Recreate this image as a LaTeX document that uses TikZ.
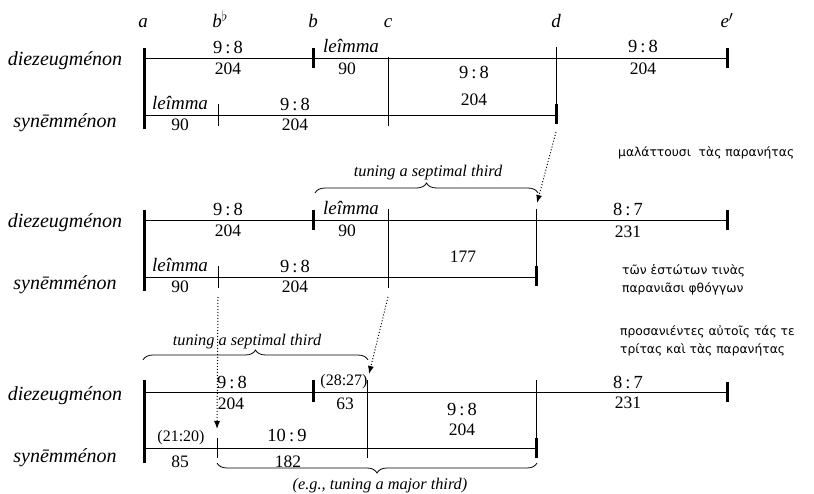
\documentclass[tikz,border=0pt]{standalone}
\usepackage{fontspec}
\setmainfont{Liberation Serif}
\newfontfamily\greekfont{DejaVu Sans}
\usetikzlibrary{arrows.meta,decorations.pathreplacing}
\begin{document}
\begin{tikzpicture}[x=1pt,y=-1pt,
  thinln/.style={line width=0.8pt},
  thickln/.style={line width=3pt},
  ratio/.style={font=\fontsize{18.5}{20}\selectfont, inner sep=0pt, anchor=base},
  pratio/.style={font=\fontsize{16}{20}\selectfont, inner sep=0pt, anchor=base},
  cents/.style={font=\fontsize{17.5}{20}\selectfont, inner sep=0pt, anchor=base},
  lem/.style={font=\fontsize{19}{22}\selectfont\itshape, inner sep=0pt, anchor=base},
  rowlab/.style={font=\fontsize{20}{22}\selectfont\itshape, inner sep=0pt, anchor=base},
  collab/.style={font=\fontsize{19}{22}\selectfont\itshape, inner sep=0pt, anchor=base},
  greek/.style={font=\fontsize{12.3}{18}\selectfont\greekfont, inner sep=0pt, anchor=base west},
  note/.style={font=\fontsize{16.3}{18}\selectfont\itshape, inner sep=0pt, anchor=base},
  brc/.style={decorate, decoration={brace, amplitude=10pt}, line width=0.8pt},
  dotarrow/.style={dotted, line width=1pt, -{Latex[length=8pt,width=6pt]}},
  wbox/.style={fill=white, inner xsep=2pt}
]
\useasboundingbox (0,0) rectangle (814,494);

% column letters
\node[collab] (la) at (143,28) {a};
\node[collab] (lbb) at (220,28) {b\textsuperscript{$\flat$}};
\node[collab] (lb) at (313,28) {b};
\node[collab] (lc) at (388,28) {c};
\node[collab] (ld) at (556,28) {d};
\node[collab] (le) at (727,28) {e$'$};

% ===== block 1 =====
\node[rowlab] (d1) at (65,66) {diezeugménon};
\node[rowlab] (s1) at (65,128) {synēmménon};
\draw[thinln] (143,58) -- (727,58);
\draw[thinln] (143,115) -- (556,115);
\draw[thickln] (144,48) -- (144,129);
\draw[thickln] (313,48) -- (313,68);
\draw[thinln] (388,57) -- (388,126);
\draw[thinln] (556,47) -- (556,115);
\draw[thickln] (556,104) -- (556,124);
\draw[thickln] (727,48) -- (727,68);
\draw[thinln] (218,104) -- (218,126);
\node[ratio] (r1a) at (228,54) {9\,:\,8};
\node[cents] (c1a) at (228,75) {204};
\node[lem] (l1a) at (351,53) {leîmma};
\node[cents] (c1b) at (347,75) {90};
\node[ratio] (r1c) at (474,79) {9\,:\,8};
\node[cents] (c1c) at (474,106) {204};
\node[ratio] (r1d) at (643,53) {9\,:\,8};
\node[cents] (c1d) at (643,75) {204};
\node[lem] (l1e) at (180,110) {leîmma};
\node[cents] (c1e) at (180,131) {90};
\node[ratio] (r1f) at (295,111) {9\,:\,8};
\node[cents] (c1f) at (295,131) {204};

\node[greek] (g1) at (618,157) {μαλάττουσι\ \ τὰς παρανήτας};

% ===== block 2 =====
\node[rowlab] (d2) at (65,228) {diezeugménon};
\node[rowlab] (s2) at (65,290) {synēmménon};
\draw[thinln] (143,220) -- (727,220);
\draw[thinln] (143,277) -- (536,277);
\draw[thickln] (144,210) -- (144,291);
\draw[thickln] (313,210) -- (313,230);
\draw[thinln] (388,209) -- (388,288);
\draw[thinln] (536,209) -- (536,277);
\draw[thickln] (536,266) -- (536,286);
\draw[thickln] (727,210) -- (727,230);
\draw[thinln] (218,266) -- (218,288);
\node[ratio] (r2a) at (228,216) {9\,:\,8};
\node[cents] (c2a) at (228,237) {204};
\node[lem] (l2a) at (351,215) {leîmma};
\node[cents] (c2b) at (347,237) {90};
\node[cents] (c2c) at (463,263) {177};
\node[ratio] (r2d) at (628,216) {8\,:\,7};
\node[cents] (c2d) at (628,238) {231};
\node[lem] (l2e) at (180,272) {leîmma};
\node[cents] (c2e) at (180,293) {90};
\node[ratio] (r2f) at (295,273) {9\,:\,8};
\node[cents] (c2f) at (295,293) {204};

\draw[brc] (315,193) -- (538,193);
\node[note] (t2) at (428,177) {tuning a septimal third};

\node[greek] (g2a) at (622,275) {τῶν ἑστώτων τινὰς};
\node[greek] (g2b) at (622,293) {παρανιᾶσι φθόγγων};
\node[greek] (g3a) at (620,336) {προσανιέντες αὐτοῖς τάς τε};
\node[greek] (g3b) at (620,353) {τρίτας καὶ τὰς παρανήτας};

% ===== block 3 =====
\node[rowlab] (d3) at (65,400) {diezeugménon};
\node[rowlab] (s3) at (65,462) {synēmménon};
\draw[thinln] (143,392) -- (727,392);
\draw[thinln] (143,448) -- (536,448);
\draw[thickln] (144,380) -- (144,463);
\draw[thickln] (313,380) -- (313,402);
\draw[thinln] (367,380) -- (367,458);
\draw[thinln] (536,380) -- (536,448);
\draw[thickln] (536,438) -- (536,458);
\draw[thickln] (727,382) -- (727,402);
\draw[thinln] (217,438) -- (217,458);
\node[ratio] (r3a) at (232,388) {9\,:\,8};
\node[cents] (c3a) at (231,409) {204};
\node[pratio] (r3b) at (344,385) {(28:27)};
\node[cents] (c3b) at (345,409) {63};
\node[ratio] (r3c) at (462,415) {9\,:\,8};
\node[cents] (c3c) at (462,435) {204};
\node[ratio] (r3d) at (628,388) {8\,:\,7};
\node[cents] (c3d) at (628,408) {231};
\node[pratio] (r3e) at (181,441) {(21:20)};
\node[cents] (c3e) at (180,467) {85};
\node[ratio,wbox] (r3f) at (287,441) {10\,:\,9};
\node[cents,wbox] (c3f) at (288,467) {182};

\draw[brc] (143,360) -- (368,360);
\node[note] (t3) at (247,345) {tuning a septimal third};
\draw[brc] (537,463) -- (217,463);
\node[note] (t4) at (380,489) {(e.g., tuning a major third)};

% ===== dotted arrows =====
\coordinate (A1s) at (556,132);
\coordinate (A1e) at (537,203);
\coordinate (A2s) at (218,297);
\coordinate (A2e) at (217,429);
\coordinate (A3s) at (388,297);
\coordinate (A3e) at (369,374);
\draw[dotarrow] (A1s) -- (A1e);
\draw[dotarrow] (A2s) -- (A2e);
\draw[dotarrow] (A3s) -- (A3e);
\end{tikzpicture}
\end{document}
